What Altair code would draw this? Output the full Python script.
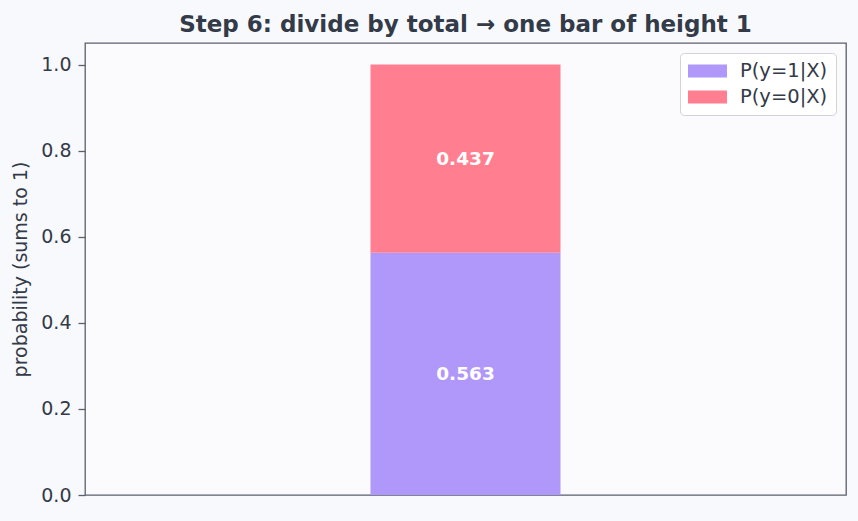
import altair as alt
import pandas as pd

labels = ["P(y=1|X)", "P(y=0|X)"]
probs = [0.563, 0.437]
colors = ["#b097fa", "#ff7f91"]
y_ticks = [0.0, 0.2, 0.4, 0.6, 0.8, 1.0]
title_text = "Step 6: divide by total \u2192 one bar of height 1"
y_title = "probability (sums to 1)"

bottoms = [0.0, probs[0]]
df = pd.DataFrame({
    "label": labels,
    "prob": probs,
    "y0": bottoms,
    "y1": [b + p for b, p in zip(bottoms, probs)],
    "x": [0.0, 0.0],
})
df["mid"] = (df["y0"] + df["y1"]) / 2
df["text"] = [f"{p:.3f}" for p in probs]

FONT = "DejaVu Sans"
TXT = "#333a48"

x = alt.X("x:Q", scale=alt.Scale(domain=[-0.8, 0.8], nice=False, zero=False), axis=None)
yscale = alt.Scale(domain=[0, 1.05], nice=False, zero=True)

# custom wide rectangle legend symbol (unit = 10 px with symbolSize 400)
rect_path = "M-1,-0.65L2.9,-0.65L2.9,0.65L-1,0.65Z"

bars = alt.Chart(df).mark_bar(size=190).encode(
    x=x,
    y=alt.Y("y0:Q", scale=yscale,
            axis=alt.Axis(values=y_ticks, format=".1f", title=y_title,
                          domain=False, grid=False, tickSize=7, tickWidth=1.3,
                          tickColor="#5a5f6e", labelPadding=7,
                          labelFontSize=19, titleFontSize=19, titleFontWeight="normal",
                          labelColor=TXT, titleColor=TXT, titlePadding=10,
                          labelFont=FONT, titleFont=FONT)),
    y2="y1:Q",
    color=alt.Color("label:N", scale=alt.Scale(domain=labels, range=colors),
                    legend=alt.Legend(title=None, orient="top-right", offset=10,
                                      symbolType=rect_path, symbolSize=400,
                                      symbolStrokeWidth=0, symbolOpacity=1,
                                      labelFontSize=19.5, labelFont=FONT, labelColor=TXT,
                                      fillColor="#ffffff", strokeColor="#d0d3da",
                                      cornerRadius=4, padding=8, rowPadding=6,
                                      labelOffset=32)),
)

text = alt.Chart(df).mark_text(color="white", fontWeight="bold", fontSize=18.5, font=FONT).encode(
    x=x,
    y=alt.Y("mid:Q", scale=yscale),
    text="text:N",
)

chart = (bars + text).properties(
    width=761,
    height=452,
    title=alt.TitleParams(title_text, fontSize=23, fontWeight="bold", font=FONT,
                          color=TXT, anchor="middle", offset=6),
    background="#f8f9fc",
    padding={"left": 85, "top": 43, "right": 12, "bottom": 26},
    autosize=alt.AutoSizeParams(type="none"),
).configure_view(
    stroke="#5a5f6e", strokeWidth=1.3, fill="#fbfbfd"
)

chart.save("out.html", embed_options={"renderer": "svg", "actions": False})
